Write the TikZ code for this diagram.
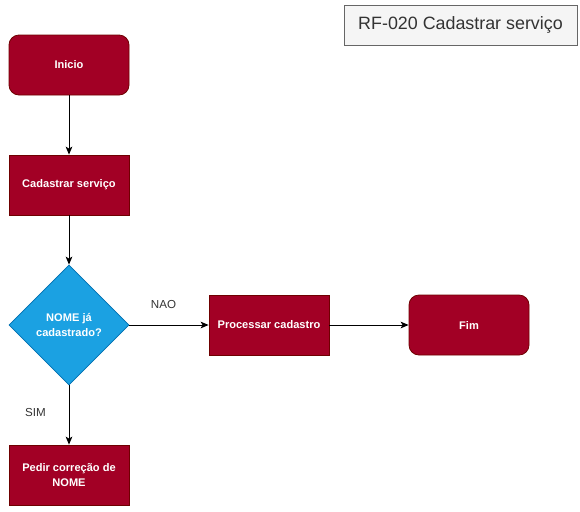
\documentclass[tikz,border=0pt]{standalone}
\usepackage{fontspec}
\setmainfont{Liberation Sans}
\usetikzlibrary{shapes.geometric,arrows.meta}
\definecolor{crim}{HTML}{A20025}
\definecolor{crimd}{HTML}{6F0000}
\definecolor{bluef}{HTML}{1BA1E2}
\definecolor{blued}{HTML}{006EAF}
\definecolor{titlef}{HTML}{F5F5F5}
\definecolor{titled}{HTML}{666666}
\definecolor{titlet}{HTML}{333333}
\begin{document}
\begin{tikzpicture}[x=0.75pt,y=-0.75pt,
  nodefont/.style={font=\bfseries\fontsize{8.3}{11.25}\selectfont},
  base/.style={draw=crimd,fill=crim,text=white,nodefont,
    minimum width=90pt,minimum height=45pt,inner sep=0pt,align=center,line width=0.6pt},
  procbox/.style={base,rectangle},
  termbox/.style={base,rectangle,rounded corners=7.5pt},
  decbox/.style={diamond,draw=blued,fill=bluef,text=white,nodefont,
    minimum width=90pt,minimum height=90pt,inner sep=0pt,align=center,aspect=1,line width=0.6pt},
  conn/.style={-{Stealth[length=6pt,width=5pt,inset=1.5pt]},line width=0.75pt},
  lbl/.style={font=\fontsize{8.7}{10}\selectfont,text=titlet}]
\useasboundingbox (0,0) rectangle (580,511);
\node[termbox] (ini) at (69,65) {Inicio};
\node[procbox] (cad) at (69,185) {Cadastrar serviço};
\node[decbox] (dec) at (69,325) {NOME já\\cadastrado?};
\node[procbox] (proc) at (269,325) {Processar cadastro};
\node[termbox] (fim) at (469,325) {Fim};
\node[procbox] (ped) at (69,475) {Pedir correção de\\NOME};
\node[draw=titled,fill=titlef,text=titlet,font=\fontsize{13.4}{15}\selectfont,
  minimum width=174.75pt,minimum height=30pt,inner sep=0pt] (title) at (460.5,25) {RF-020 Cadastrar serviço};
\draw[conn] (ini) -- (cad);
\draw[conn] (cad) -- (dec.north);
\draw[conn] (dec.east) -- (proc);
\draw[conn] (proc) -- (fim);
\draw[conn] (dec.south) -- (ped);
\node[lbl] (nao) at (163.5,304.5) {NAO};
\node[lbl] (sim) at (35.5,412.5) {SIM};
\end{tikzpicture}
\end{document}
